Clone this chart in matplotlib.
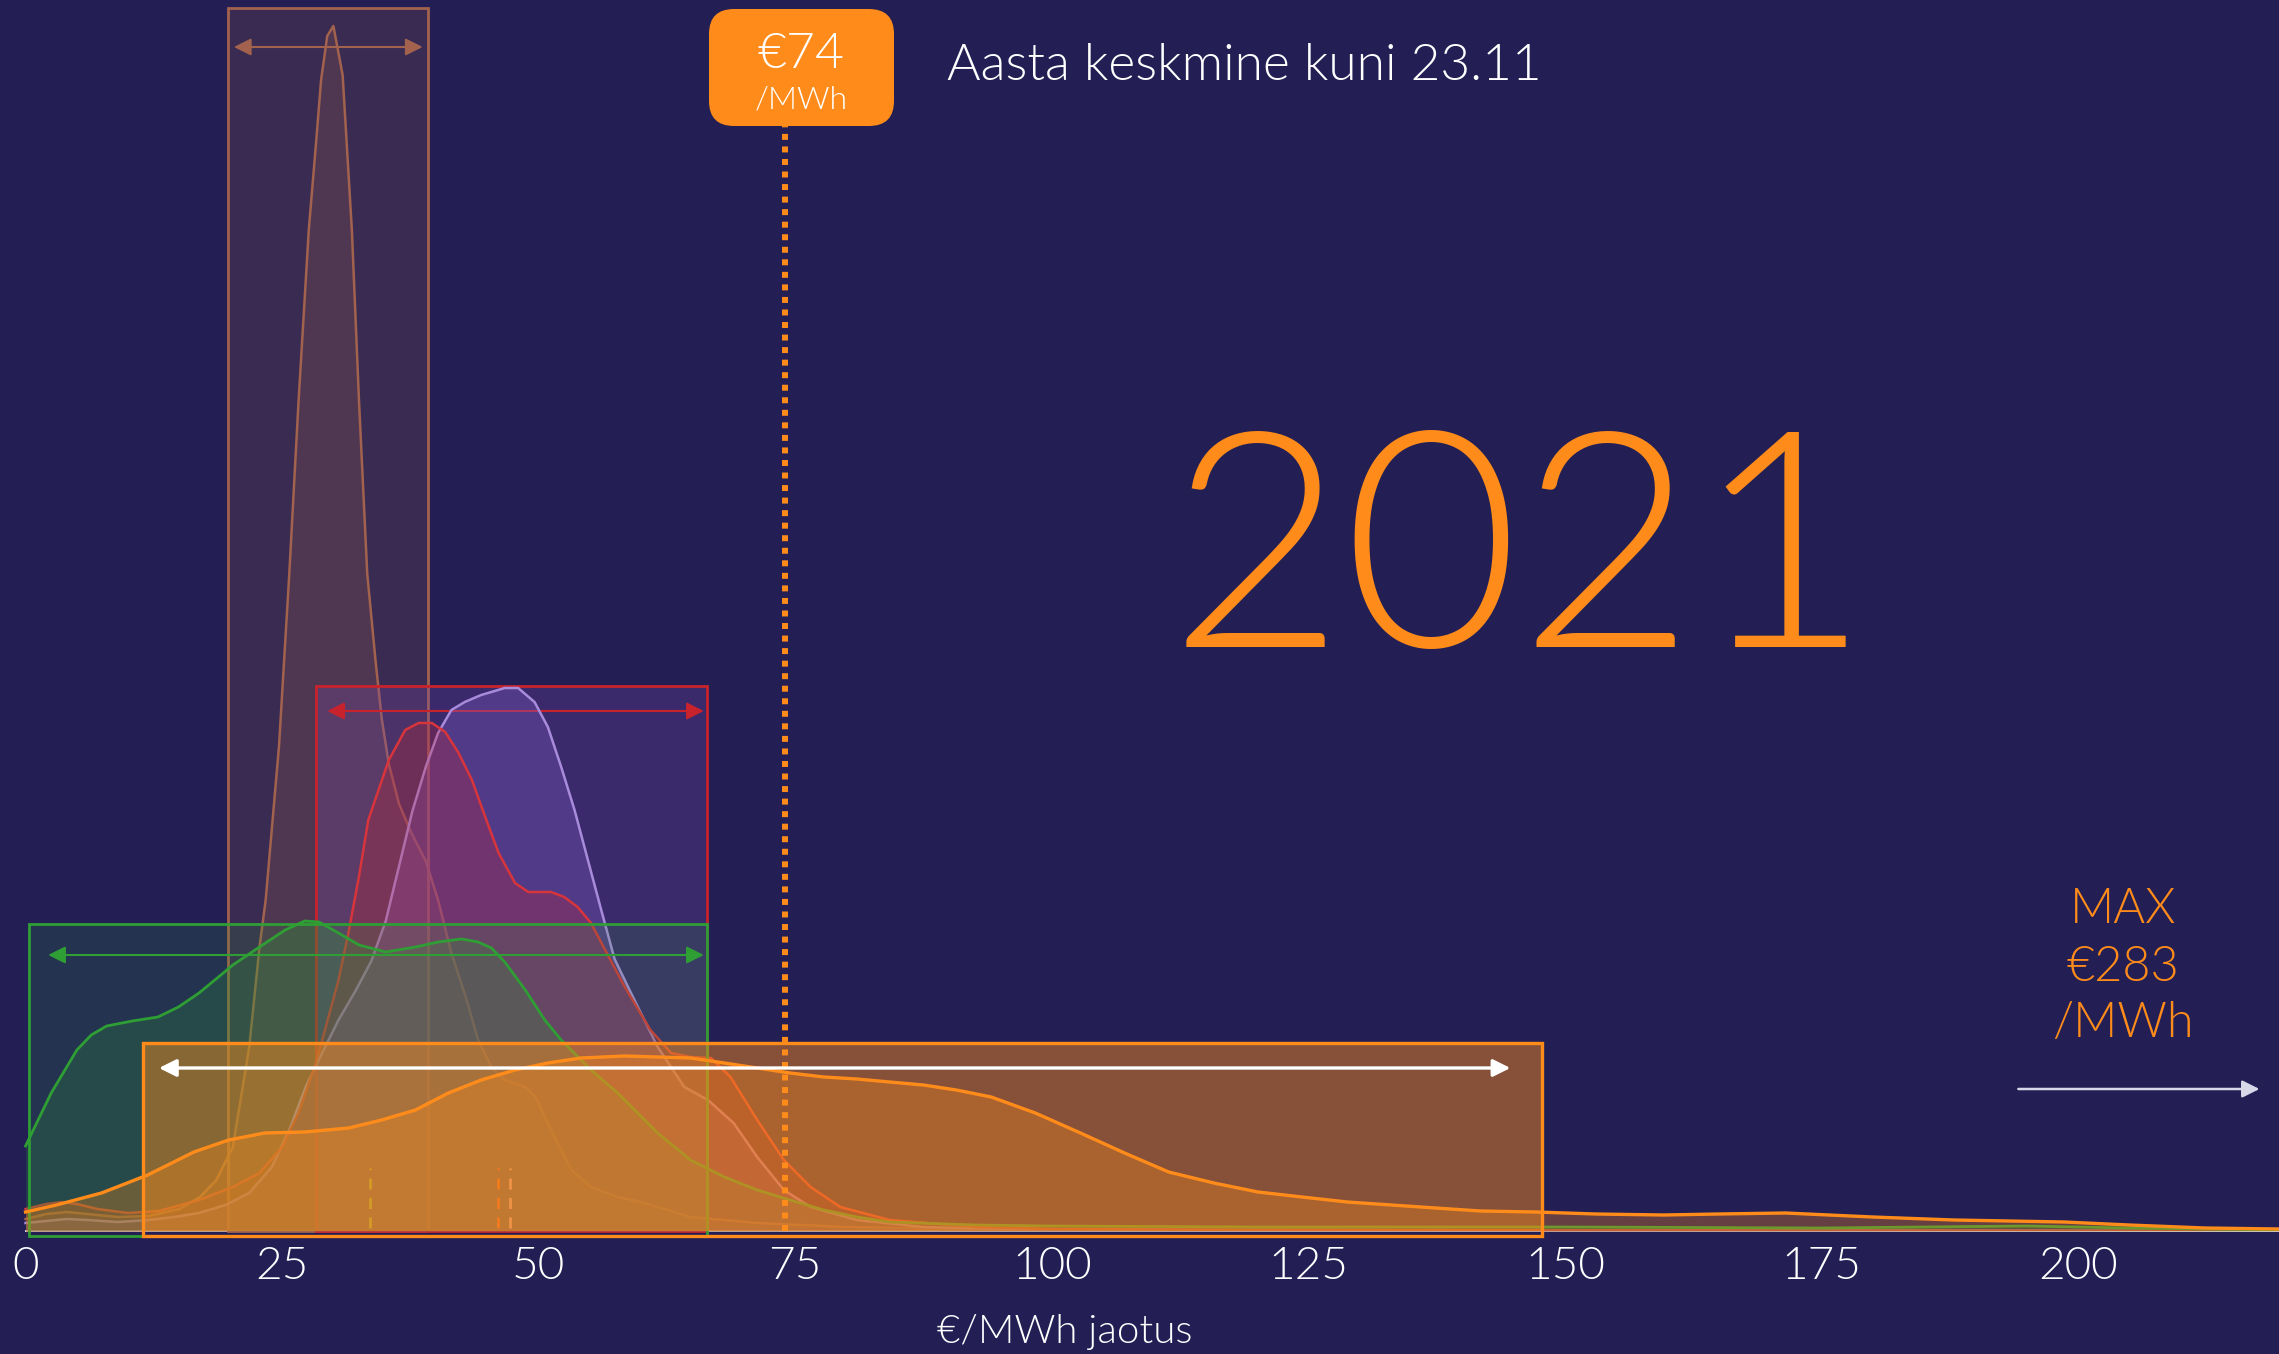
import matplotlib
matplotlib.use("Agg")
import matplotlib.pyplot as plt
from matplotlib.patches import Rectangle, FancyBboxPatch

# ---------------- data ----------------
# density curves (x in EUR/MWh, density per EUR)
brown_x = [0, 2, 4, 6, 9, 12, 15, 17, 18.6, 20.2, 21.8, 22.8, 23.4, 24.7, 25.7, 26.6, 27.6, 28.3, 28.8, 29.4, 30.0,
           30.9, 31.3, 31.8, 32.5, 33.3, 34.1, 34.7, 35.4, 36.4, 37.6, 39.0, 40.2, 41.5, 42.9, 44.1, 45.4, 46.7,
           48.7, 49.7, 51.2, 53.2, 55.1, 57.7, 60, 64.8, 71.3, 80, 90, 100, 120, 219.6]
brown_y = [0.0012, 0.0017, 0.0019, 0.0017, 0.0014, 0.0015, 0.0022, 0.0034, 0.0051, 0.0084, 0.0184, 0.0284, 0.0331,
           0.0485, 0.0657, 0.0829, 0.1001, 0.1087, 0.1151, 0.1195, 0.1205, 0.1156, 0.1087, 0.1001, 0.0829, 0.0657,
           0.0571, 0.0513, 0.0467, 0.0427, 0.0398, 0.0370, 0.0331, 0.0278, 0.0234, 0.0191, 0.0164, 0.0151, 0.0144,
           0.0134, 0.0101, 0.0061, 0.0044, 0.0034, 0.0029, 0.0014, 0.0008, 0.0004, 0.0002, 0.0001, 0.00005, 0.0]

red_x = [0, 2, 3.5, 5, 7, 10, 13, 16.9, 20.2, 22.8, 25.0, 26.6, 28.3, 30.5, 31.5, 32.5, 33.4, 35.4, 37.0, 38.3,
         39.6, 40.9, 42.2, 43.5, 44.8, 46.1, 47.7, 49.0, 51.2, 52.5, 53.8, 55.1, 57.0, 58.4, 60.9, 62.9, 64.8,
         66.8, 68.7, 71.3, 73.9, 76.5, 79.4, 84.2, 92.7, 100, 120, 219.6]
red_y = [0.0022, 0.0027, 0.0029, 0.0027, 0.0022, 0.0018, 0.0020, 0.0031, 0.0044, 0.0058, 0.0084, 0.0118, 0.0168,
         0.0251, 0.0300, 0.0355, 0.0411, 0.0471, 0.0501, 0.0508, 0.0508, 0.0499, 0.0478, 0.0451, 0.0414, 0.0378,
         0.0348, 0.0339, 0.0339, 0.0334, 0.0324, 0.0308, 0.0271, 0.0244, 0.0201, 0.0178, 0.0174, 0.0173, 0.0154,
         0.0111, 0.0071, 0.0044, 0.0024, 0.0011, 0.0004, 0.0002, 0.0001, 0.0]

purple_x = [0, 2, 4, 6, 9, 12, 14.5, 16.9, 19.5, 21.8, 24.0, 25.7, 27.3, 28.9, 30.5, 32.2, 33.7, 35.1, 36.4, 37.7,
            39.0, 40.2, 41.5, 42.8, 44.4, 46.7, 48.0, 49.6, 50.9, 52.2, 53.5, 54.8, 56.1, 57.4, 59.0, 61.6, 64.2,
            66.5, 69.0, 71.3, 73.9, 76.5, 81, 87.5, 95, 110, 219.6]
purple_y = [0.0008, 0.0010, 0.0012, 0.0011, 0.0009, 0.0011, 0.0014, 0.0018, 0.0026, 0.0038, 0.0064, 0.0101, 0.0144,
            0.0178, 0.0211, 0.0241, 0.0270, 0.0310, 0.0365, 0.0420, 0.0464, 0.0498, 0.0521, 0.0529, 0.0536, 0.0543,
            0.0543, 0.0529, 0.0504, 0.0464, 0.0421, 0.0371, 0.0321, 0.0272, 0.0238, 0.0184, 0.0144, 0.0131, 0.0108,
            0.0074, 0.0041, 0.0024, 0.0011, 0.0004, 0.0002, 0.0001, 0.0]

green_x = [0, 2.5, 5.0, 6.4, 7.9, 10.4, 12.9, 14.9, 16.9, 18.8, 20.2, 22.8, 25.3, 27.2, 28.6, 30.5, 32.5, 35.1, 38.0,
           40.2, 42.5, 44.1, 45.4, 46.7, 48.7, 50.6, 52.2, 55.1, 57.7, 61.6, 64.8, 68.1, 71.3, 74.5, 77.8, 81,
           84.2, 92.7, 100, 120, 150, 175, 195, 205, 219.6]
green_y = [0.0085, 0.0138, 0.0181, 0.0196, 0.0205, 0.0210, 0.0214, 0.0224, 0.0238, 0.0254, 0.0266, 0.0284, 0.0301,
           0.0310, 0.0309, 0.0298, 0.0286, 0.0279, 0.0284, 0.0289, 0.0292, 0.0289, 0.0283, 0.0269, 0.0241, 0.0211,
           0.0191, 0.0161, 0.0138, 0.0098, 0.0071, 0.0054, 0.0041, 0.0031, 0.0021, 0.0014, 0.0009, 0.0006, 0.0005,
           0.0004, 0.0004, 0.0003, 0.0005, 0.0003, 0.0001]

orange_x = [0, 3, 7.4, 11.9, 16.4, 19.8, 23.3, 27.2, 31.5, 34.7, 38.0, 41.2, 44.4, 47.7, 50.9, 54.1, 58.4, 61.6,
            64.8, 68.1, 71.3, 74.5, 77.8, 81, 84.2, 87.5, 90.7, 94.1, 98.4, 102.8, 107.1, 111.4, 115.8, 120.1,
            124.4, 128.8, 133.1, 137.4, 141.8, 147.2, 153, 159.6, 165, 171.5, 180, 187.9, 198.7, 205, 212.4, 219.6]
orange_y = [0.0019, 0.0026, 0.0038, 0.0056, 0.0079, 0.0091, 0.0098, 0.0099, 0.0103, 0.0111, 0.0121, 0.0138, 0.0151,
            0.0161, 0.0168, 0.0173, 0.0175, 0.0174, 0.0173, 0.0168, 0.0163, 0.0158, 0.0154, 0.0152, 0.0149, 0.0146,
            0.0141, 0.0134, 0.0118, 0.0098, 0.0078, 0.0059, 0.0048, 0.0039, 0.0034, 0.0029, 0.0026, 0.0023, 0.0020,
            0.0019, 0.0017, 0.0016, 0.0017, 0.0018, 0.0014, 0.0011, 0.0009, 0.0006, 0.0003, 0.0002]

# range boxes: brown, red, green, orange
box_lo = [19.7, 28.3, 0.3, 11.4]
box_hi = [39.2, 66.4, 66.4, 147.8]
box_bottom = [0.0, 0.0, -0.0005, -0.0005]
box_top = [0.1223, 0.0545, 0.0307, 0.0188]
arrow_lo = [20.3, 29.4, 2.2, 13.0]
arrow_hi = [38.7, 66.1, 66.1, 144.7]
arrow_y = [0.1184, 0.0520, 0.0276, 0.0163]

# means of the individual series (short dashed markers)
mean_x = [33.6, 46.0, 47.2]
mean_top = 0.0063

year_avg = 74
year_max = 283
max_arrow = [194.2, 217.7]
max_arrow_y = 0.0142

xticks = [0, 25, 50, 75, 100, 125, 150, 175, 200]

# ---------------- style ----------------
BG = '#231F54'
BROWN = '#A2624E'
RED = '#C8232C'
PURPLE_LINE = '#A88BDB'
PURPLE_FILL = '#7B5CC0'
GREEN = '#2E9E35'
ORANGE = '#FF8C1A'
FONT = ['Lato', 'DejaVu Sans']
FW = 300

plt.rcParams['font.family'] = FONT
plt.rcParams['font.weight'] = FW

W, H = 2279, 1354
fig = plt.figure(figsize=(W / 100, H / 100), dpi=100)
fig.patch.set_facecolor(BG)
ax = fig.add_axes([0, 123 / H, 1, 1231 / H])
ax.set_facecolor(BG)
ax.set_xlim(-2.49, 219.6)
ax.set_ylim(0, 0.1231)
for s in ax.spines.values():
    s.set_visible(False)
ax.set_yticks([])
ax.set_xticks(xticks)
ax.set_xticklabels([str(t) for t in xticks], fontweight=FW)
ax.tick_params(axis='x', length=0, pad=11, labelsize=33, colors='white')

# baseline
ax.plot([0, 219.6], [0, 0], color='white', lw=1.4, alpha=0.85, zorder=1, clip_on=False)

box_face = [(BROWN, 0.18), ('#7A4AA8', 0.28), (GREEN, 0.16), (ORANGE, 0.45)]
box_edge = [BROWN, RED, GREEN, ORANGE]
box_z = [2, 4, 8, 11]
arrow_col = [BROWN, RED, GREEN, 'white']

def draw_box(i):
    r = Rectangle((box_lo[i], box_bottom[i]), box_hi[i] - box_lo[i], box_top[i] - box_bottom[i],
                  facecolor=box_face[i][0], alpha=box_face[i][1], edgecolor='none', zorder=box_z[i])
    ax.add_patch(r)
    e = Rectangle((box_lo[i], box_bottom[i]), box_hi[i] - box_lo[i], box_top[i] - box_bottom[i],
                  facecolor='none', edgecolor=box_edge[i], lw=2.0 if i < 3 else 2.4, zorder=box_z[i] + 0.1,
                  clip_on=False)
    ax.add_patch(e)
    lw = 1.5 if i < 3 else 2.4
    ax.annotate('', xy=(arrow_hi[i], arrow_y[i]), xytext=(arrow_lo[i], arrow_y[i]),
                arrowprops=dict(arrowstyle='<|-|>', color=arrow_col[i], lw=lw, mutation_scale=26,
                                shrinkA=0, shrinkB=0),
                zorder=box_z[i] + 0.2 if i < 3 else 20)

def draw_curve(x, y, line, fill, a, z, lw=2.0):
    ax.fill_between(x, 0, y, color=fill, alpha=a, lw=0, zorder=z)
    ax.plot(x, y, color=line, lw=lw, zorder=z + 0.1, solid_joinstyle='round')

draw_box(0)
draw_curve(brown_x, brown_y, BROWN, BROWN, 0.22, 3, 1.8)
draw_box(1)
draw_curve(purple_x, purple_y, PURPLE_LINE, PURPLE_FILL, 0.35, 5, 1.8)
draw_curve(red_x, red_y, '#D8343C', RED, 0.28, 6, 1.8)
draw_box(2)
draw_curve(green_x, green_y, GREEN, GREEN, 0.22, 9, 2.0)
mean_cols = ['#8DB33A', '#E0602A', '#D8A090']
for mx, mc in zip(mean_x, mean_cols):
    ax.plot([mx, mx], [0.0003, mean_top], color=mc, lw=2, ls=(0, (4, 3)), zorder=10)
draw_box(3)
draw_curve(orange_x, orange_y, ORANGE, ORANGE, 0.30, 12, 2.4)

# year average dotted line
ax.plot([year_avg, year_avg], [0, 1 - 126 / 1231], transform=ax.get_xaxis_transform(),
        color=ORANGE, lw=4.3, ls=(0, (1, 1.1)), zorder=15, clip_on=False)

# average label box
bx0, bx1, by0, by1 = 709 / W, 894 / W, 1 - 126 / H, 1 - 9 / H
fig.patches.append(FancyBboxPatch((bx0, by0), bx1 - bx0, by1 - by0,
                                  boxstyle='round,pad=0,rounding_size=0.011',
                                  transform=fig.transFigure, facecolor=ORANGE, edgecolor='none',
                                  mutation_aspect=W / H))
cx = (bx0 + bx1) / 2
fig.text(cx, 1 - 68 / H, f'€{year_avg}', ha='center', va='baseline', color='white', fontsize=36,
         fontweight=FW)
fig.text(cx, 1 - 108 / H, '/MWh', ha='center', va='baseline', color='white', fontsize=23, fontweight=FW)
fig.text(947 / W, 1 - 80 / H, 'Aasta keskmine kuni 23.11', ha='left', va='baseline',
         color='white', fontsize=37, fontweight=FW)

# big year
fig.text(1520 / W, 1 - 647 / H, '2021', ha='center', va='baseline', color=ORANGE, fontsize=218,
         fontweight=350)

# max note
mx_c = 2123 / W
for txt, yb in [('MAX', 923), (f'€{year_max}', 981), ('/MWh', 1037)]:
    fig.text(mx_c, 1 - yb / H, txt, ha='center', va='baseline', color=ORANGE, fontsize=35, fontweight=FW)
ax.annotate('', xy=(max_arrow[1], max_arrow_y), xytext=(max_arrow[0], max_arrow_y),
            arrowprops=dict(arrowstyle='-|>', color='#D8D8E8', lw=1.8, mutation_scale=26,
                            shrinkA=0, shrinkB=0, facecolor='white'),
            zorder=20)

ax.set_xlabel('€/MWh jaotus', color='white', fontsize=29, va='baseline', fontweight=FW)
ax.xaxis.set_label_coords(1065 / W, (11 - 123) / 1231)

fig.savefig('out.png', dpi=100, facecolor=BG)
